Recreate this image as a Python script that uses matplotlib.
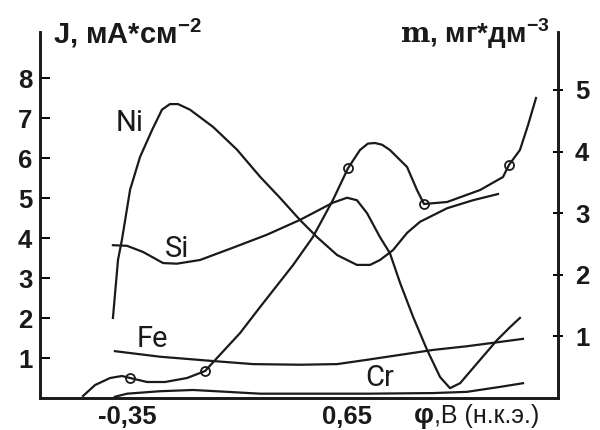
import matplotlib.pyplot as plt

plt.rcParams['font.family'] = ['Liberation Sans', 'DejaVu Sans']
plt.rcParams['mathtext.fontset'] = 'custom'
plt.rcParams['mathtext.rm'] = 'Liberation Sans:bold'
plt.rcParams['mathtext.bf'] = 'DejaVu Serif:bold'

# current density curve J (left axis), mA/cm2
j_phi = [-0.55, -0.495, -0.427, -0.373, -0.336, -0.259, -0.177, -0.077, 0.005, 0.059,
         0.164, 0.255, 0.405, 0.495, 0.586, 0.655, 0.709, 0.745, 0.777, 0.81, 0.845,
         0.923, 0.968, 1.0, 1.105, 1.255, 1.359, 1.386, 1.436, 1.473, 1.509]
j_val = [0.05, 0.325, 0.5, 0.55, 0.5, 0.4, 0.4, 0.5, 0.675, 1.0,
         1.625, 2.275, 3.325, 4.025, 4.95, 5.75, 6.2, 6.36, 6.375, 6.33, 6.2,
         5.775, 5.2, 4.85, 4.9, 5.2, 5.525, 5.825, 6.2, 6.825, 7.5]
j_points = [4, 8, 15, 23, 27]

# dissolved metals m (right axis), mg/dm3
ni_phi = [-0.414, -0.391, -0.373, -0.336, -0.291, -0.236, -0.191, -0.155, -0.118, -0.064,
          0.041, 0.15, 0.255, 0.345, 0.436, 0.514, 0.605, 0.695, 0.755, 0.8, 0.859,
          0.923, 0.982, 1.105, 1.223, 1.336]
ni_val = [1.30, 2.24, 2.57, 3.38, 3.91, 4.35, 4.68, 4.77, 4.77, 4.68,
          4.40, 4.03, 3.59, 3.25, 2.89, 2.61, 2.32, 2.16, 2.16, 2.24, 2.40,
          2.68, 2.86, 3.08, 3.21, 3.31]

si_phi = [-0.414, -0.35, -0.277, -0.186, -0.123, -0.018, 0.132, 0.286, 0.436, 0.495,
          0.586, 0.65, 0.695, 0.741, 0.8, 0.845, 0.891, 0.95, 1.014, 1.073, 1.118,
          1.164, 1.255, 1.332, 1.391, 1.436]
si_val = [2.48, 2.47, 2.37, 2.19, 2.18, 2.24, 2.44, 2.65, 2.89, 3.00,
          3.17, 3.25, 3.21, 3.00, 2.61, 2.35, 1.87, 1.32, 0.78, 0.34, 0.16,
          0.24, 0.62, 0.94, 1.15, 1.30]

fe_phi = [-0.405, -0.2, 0.041, 0.223, 0.436, 0.605, 0.741, 0.891, 1.041, 1.195, 1.345, 1.45]
fe_val = [0.76, 0.67, 0.60, 0.55, 0.54, 0.55, 0.62, 0.70, 0.78, 0.84, 0.91, 0.96]

cr_phi = [-0.405, -0.35, -0.2, -0.05, 0.105, 0.255, 0.482, 0.741, 1.041, 1.195, 1.345, 1.45]
cr_val = [0.02, 0.07, 0.11, 0.13, 0.10, 0.07, 0.07, 0.07, 0.08, 0.10, 0.18, 0.24]

x_ticks = [-0.35, 0.65]
x_ticklabels = ['-0,35', '0,65']

fig = plt.figure(figsize=(6, 4.3), dpi=100)
ax = fig.add_axes([40/600, 1 - 398/430, 518/600, 366/430])
ax2 = ax.twinx()

lw = 1.6
ax.plot(j_phi, j_val, color='#1a1a1a', lw=lw, solid_joinstyle='round',
        marker='o', markevery=j_points, ms=6.5, mfc='none', mec='#1a1a1a', mew=1.3)
for xs, ys in [(ni_phi, ni_val), (si_phi, si_val), (fe_phi, fe_val), (cr_phi, cr_val)]:
    ax2.plot(xs, ys, color='#1a1a1a', lw=lw, solid_joinstyle='round')

ax.set_xlim(-0.7455, 1.609)
ax.set_ylim(0, 9.15)
ax2.set_ylim(0, 5.94)

for a in (ax, ax2):
    a.spines['top'].set_visible(False)
    for s in ('left', 'right', 'bottom'):
        a.spines[s].set_linewidth(1.9)
        a.spines[s].set_color('#1a1a1a')

ax.set_yticks(range(1, 9))
ax.tick_params(axis='y', direction='in', length=7, width=1.4, pad=5.5,
               labelsize=18.5)
ax2.set_yticks(range(1, 6))
ax2.tick_params(axis='y', direction='inout', length=6.5, width=1.4, pad=9,
                labelsize=18.5)
ax.set_xticks(x_ticks)
ax.set_xticklabels(x_ticklabels)
ax.tick_params(axis='x', length=0, pad=5, labelsize=18.5)
for lab in ax.get_yticklabels() + ax2.get_yticklabels() + ax.get_xticklabels():
    lab.set_fontweight('bold')
    lab.set_color('#1a1a1a')

# curve names
name_kw = dict(fontsize=21, color='#1a1a1a', ha='center', va='center',
               family=['Roboto', 'Liberation Sans'])
ax2.text(-0.336, 4.46, 'Ni', **name_kw)
ax2.text(-0.123, 2.42, 'Si', **name_kw)
ax2.text(-0.236, 0.96, 'Fe', **name_kw)
ax2.text(0.80, 0.32, 'Cr', **name_kw)

# axis titles
fig.text(53/600, 1 - 43/430, 'J, мА*см$^{-2}$', fontsize=21, fontweight='bold',
         color='#1a1a1a', ha='left', va='baseline')
fig.text(550/600, 1 - 43/430, r'$\mathbf{m}$, мг*дм$^{-3}$', fontsize=20,
         fontweight='bold', color='#1a1a1a', ha='right', va='baseline')
fig.text(434/600, 1 - 423/430, 'φ', fontsize=20, fontweight='bold',
         color='#1a1a1a', ha='right', va='baseline')
fig.text(434/600, 1 - 423/430, ',В (н.к.э.)', fontsize=18, color='#1a1a1a',
         ha='left', va='baseline')

fig.savefig('out.png', dpi=100)
